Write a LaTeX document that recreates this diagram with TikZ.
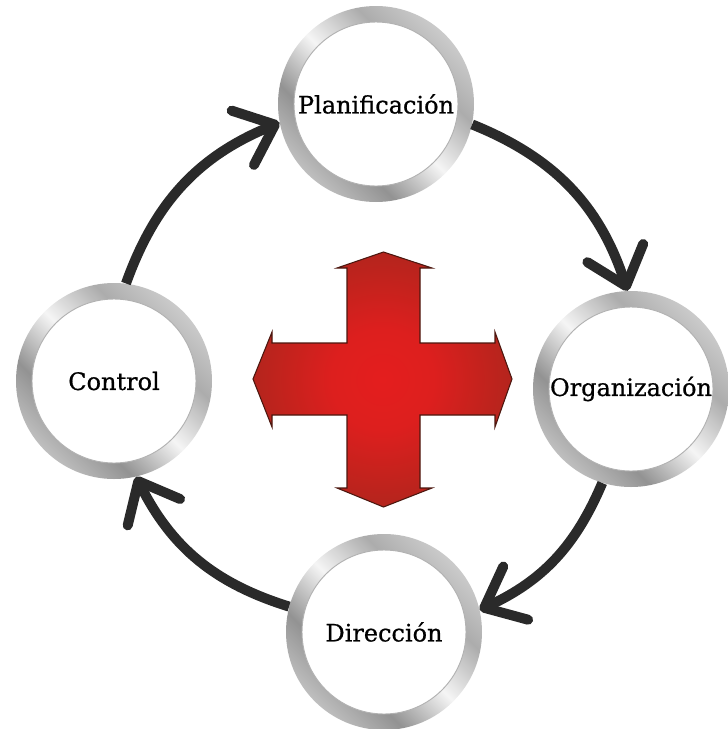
\documentclass[tikz,border=0pt]{standalone}
\usepackage{fontspec}
\setmainfont{DejaVu Serif}
\newfontfamily\stagefont{DejaVu Serif}[FakeBold=0.7]
\usetikzlibrary{arrows.meta}
\definecolor{arrowgray}{RGB}{42,42,42}
\definecolor{crossred}{RGB}{228,30,30}
\definecolor{crossbrown}{RGB}{138,42,28}
\pgfdeclarehorizontalshading{chrome}{100bp}{color(0bp)=(gray!80); color(20bp)=(gray!35); color(36bp)=(gray!85); color(50bp)=(gray!8); color(64bp)=(gray!65); color(80bp)=(gray!30); color(100bp)=(gray!80)}
\pgfdeclareradialshading{glass}{\pgfpoint{0bp}{0bp}}{color(0bp)=(white); color(32bp)=(white); color(46bp)=(gray!18); color(50bp)=(gray!42)}
\pgfdeclareradialshading{crossglow}{\pgfpoint{0bp}{0bp}}{color(0bp)=(crossred); color(10bp)=(crossred!92!crossbrown); color(40bp)=(crossbrown); color(50bp)=(crossbrown)}
\tikzset{
  stage/.style={circle, minimum size=147pt, inner sep=0pt, shade, shading=chrome, shading angle=45,
    path picture={\shade[shading=glass] (path picture bounding box.center) circle (61.5pt);
      \draw[gray!60, line width=0.7pt] (path picture bounding box.center) circle (61.5pt);},
    font=\stagefont\fontsize{18pt}{21pt}\selectfont},
  flow/.style={draw=arrowgray, line width=7.5pt, -{Straight Barb[length=26pt,width=44pt,round]}}
}

\begin{document}
\begin{tikzpicture}[x=0.75pt,y=0.75pt,yscale=-1,xscale=1]
  \useasboundingbox (0,0) rectangle (728,729);

  %Cross
  \shade[shading=crossglow, draw=crossbrown!55!black, line width=0.8pt]
    (383.5,252) -- (432,268) -- (420,268) -- (420,343) -- (495,343) -- (495,332) -- (512,379)
    -- (495,427) -- (495,415) -- (420,415) -- (420,488) -- (432,488) -- (383.5,507) -- (337,488)
    -- (347,488) -- (347,415) -- (272,415) -- (272,427) -- (253,379) -- (272,332) -- (272,343)
    -- (347,343) -- (347,268) -- (337,268) -- cycle;

  %Stages
  \node[stage] (plan) at (376,104) {Planificación};
  \node[stage] (org) at (631,389) {Organización};
  \node[stage] (dir) at (384,632) {Dirección};
  \node[stage] (ctl) at (114,381) {Control};

  %Arrows
  \draw[flow] (plan.-12) to[bend right=25] (org.92);
  \draw[flow] (org.253) to[bend right=21] (dir.13);
  \draw[flow] (dir.165) to[bend right=23] (ctl.283);
  \draw[flow] (ctl.83) to[bend right=24] (plan.191);
\end{tikzpicture}
\end{document}
